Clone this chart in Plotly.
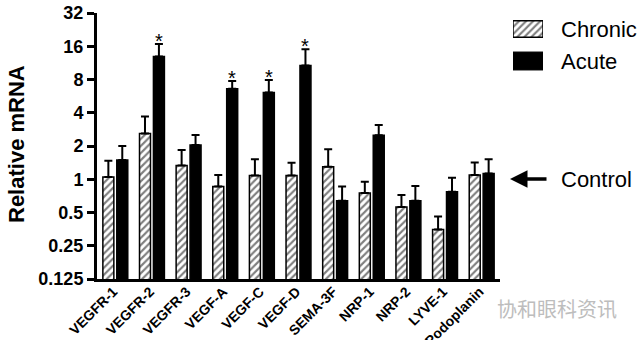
import numpy as np
import plotly.graph_objects as go

# Relative mRNA expression (fold change vs. control), mean and upper SEM
categories = ["VEGFR-1", "VEGFR-2", "VEGFR-3", "VEGF-A", "VEGF-C", "VEGF-D",
              "SEMA-3F", "NRP-1", "NRP-2", "LYVE-1", "Podoplanin"]
chronic = [1.05, 2.6, 1.33, 0.86, 1.08, 1.08, 1.30, 0.75, 0.56, 0.35, 1.09]
chronic_err = [0.42, 1.1, 0.51, 0.23, 0.44, 0.33, 0.57, 0.20, 0.16, 0.11, 0.33]
acute = [1.49, 12.9, 2.04, 6.6, 6.1, 10.7, 0.64, 2.5, 0.64, 0.77, 1.13]
acute_err = [0.51, 3.9, 0.48, 1.15, 1.8, 4.3, 0.22, 0.6, 0.23, 0.26, 0.39]
significant = [False, True, False, True, True, True, False, False, False, False, False]

y_ticks = [0.125, 0.25, 0.5, 1, 2, 4, 8, 16, 32]
y_tick_text = ["0.125", "0.25", "0.5", "1", "2", "4", "8", "16", "32"]

W, H = 640, 340
FONT = "Liberation Sans, Arial, Helvetica, sans-serif"

x_idx = list(range(len(categories)))
BAR_W = 0.30
CHR_OFF = -0.34
ACU_OFF = 0.04


def err_bar(vals):
    return dict(type="data", symmetric=False, array=vals,
                arrayminus=[0] * len(vals), color="black",
                thickness=2, width=4)


fig = go.Figure()

fig.add_trace(go.Bar(
    x=x_idx, y=chronic, name="Chronic", width=BAR_W, offset=CHR_OFF,
    marker=dict(color="white", line=dict(color="black", width=1.5),
                pattern=dict(shape="/", size=5, solidity=0.42,
                             fgcolor="black", bgcolor="white")),
    error_y=err_bar(chronic_err), showlegend=False,
))
fig.add_trace(go.Bar(
    x=x_idx, y=acute, name="Acute", width=BAR_W, offset=ACU_OFF,
    marker=dict(color="black", line=dict(color="black", width=1.5)),
    error_y=err_bar(acute_err), showlegend=False,
))

# Legend swatches on a small helper axis
legend_names = ["Chronic", "Acute"]
fig.add_trace(go.Bar(
    x=[1], y=[legend_names[0]], orientation="h", width=0.52,
    xaxis="x2", yaxis="y2", showlegend=False, hoverinfo="skip",
    marker=dict(color="white", line=dict(color="black", width=1.5),
                pattern=dict(shape="/", size=5, solidity=0.42,
                             fgcolor="black", bgcolor="white")),
))
fig.add_trace(go.Bar(
    x=[1], y=[legend_names[1]], orientation="h", width=0.56,
    xaxis="x2", yaxis="y2", showlegend=False, hoverinfo="skip",
    marker=dict(color="black", line=dict(color="black", width=1)),
))

annotations = []
# significance stars above the acute error bars
for i, (sig, v, e) in enumerate(zip(significant, acute, acute_err)):
    if sig:
        annotations.append(dict(
            x=i + ACU_OFF + BAR_W / 2, y=np.log10(v + e), xref="x", yref="y",
            text="*", showarrow=False, yanchor="bottom", yshift=-10,
            font=dict(family=FONT, size=20, color="black"),
        ))

# legend labels
for name, ypx in zip(legend_names, [29, 61]):
    annotations.append(dict(
        x=559 / W, y=1 - ypx / H, xref="paper", yref="paper", text=name,
        showarrow=False, xanchor="left", yanchor="middle",
        font=dict(family=FONT, size=22, color="black"),
    ))

# control reference arrow and label
annotations.append(dict(
    x=510 / W, y=1 - 179 / H, xref="paper", yref="paper", text="",
    showarrow=True, ax=38, ay=0, arrowhead=2, arrowsize=1,
    arrowwidth=3.5, arrowcolor="black",
))
annotations.append(dict(
    x=559 / W, y=1 - 179 / H, xref="paper", yref="paper", text="Control",
    showarrow=False, xanchor="left", yanchor="middle",
    font=dict(family=FONT, size=22, color="black"),
))

# y-axis title
annotations.append(dict(
    x=16 / W, y=1 - 144 / H, xref="paper", yref="paper",
    text="<b>Relative mRNA</b>", textangle=-90, showarrow=False,
    xanchor="center", yanchor="middle",
    font=dict(family=FONT, size=22, color="black"),
))

# watermark
annotations.append(dict(
    x=557 / W, y=1 - 308 / H, xref="paper", yref="paper",
    text="协和眼科资讯", showarrow=False, xanchor="center", yanchor="middle",
    font=dict(family="Noto Sans CJK SC", size=20, color="#bdbdbd"),
))

fig.update_layout(
    width=W, height=H, autosize=False,
    margin=dict(l=0, r=0, t=0, b=0),
    paper_bgcolor="white", plot_bgcolor="white",
    showlegend=False,
    xaxis=dict(
        domain=[97 / W, 500 / W], anchor="y",
        tickmode="array", tickvals=x_idx, ticktext=categories,
        range=[-0.5, len(categories) - 0.5],
        tickangle=-45, ticks="", showgrid=False, zeroline=False,
        showline=True, linecolor="black", linewidth=3,
        ticklabelshift=-2, ticklabelstandoff=-4,
        tickfont=dict(family=FONT, size=14, color="black", weight="bold"),
        automargin=False,
    ),
    yaxis=dict(
        domain=[1 - 279 / H, 1 - 13 / H], anchor="x",
        type="log", range=[np.log10(0.125), np.log10(32)],
        tickmode="array", tickvals=y_ticks, ticktext=y_tick_text,
        ticks="outside", ticklen=7, tickwidth=3, tickcolor="black",
        showgrid=False, zeroline=False,
        showline=True, linecolor="black", linewidth=3,
        tickfont=dict(family=FONT, size=18, color="black", weight="bold"),
        automargin=False,
    ),
    xaxis2=dict(domain=[513 / W, 543 / W], anchor="y2", range=[0, 1],
                visible=False, fixedrange=True),
    yaxis2=dict(domain=[1 - 77 / H, 1 - 13 / H], anchor="x2",
                type="category", categoryorder="array",
                categoryarray=legend_names, autorange="reversed",
                visible=False, fixedrange=True),
    shapes=[dict(
        type="line", xref="paper", yref="y",
        x0=97 / W, x1=507 / W, y0=0, y1=0,
        line=dict(color="black", width=2, dash="2px,3px"),
    )],
    annotations=annotations,
)

fig.write_html("out.html")
